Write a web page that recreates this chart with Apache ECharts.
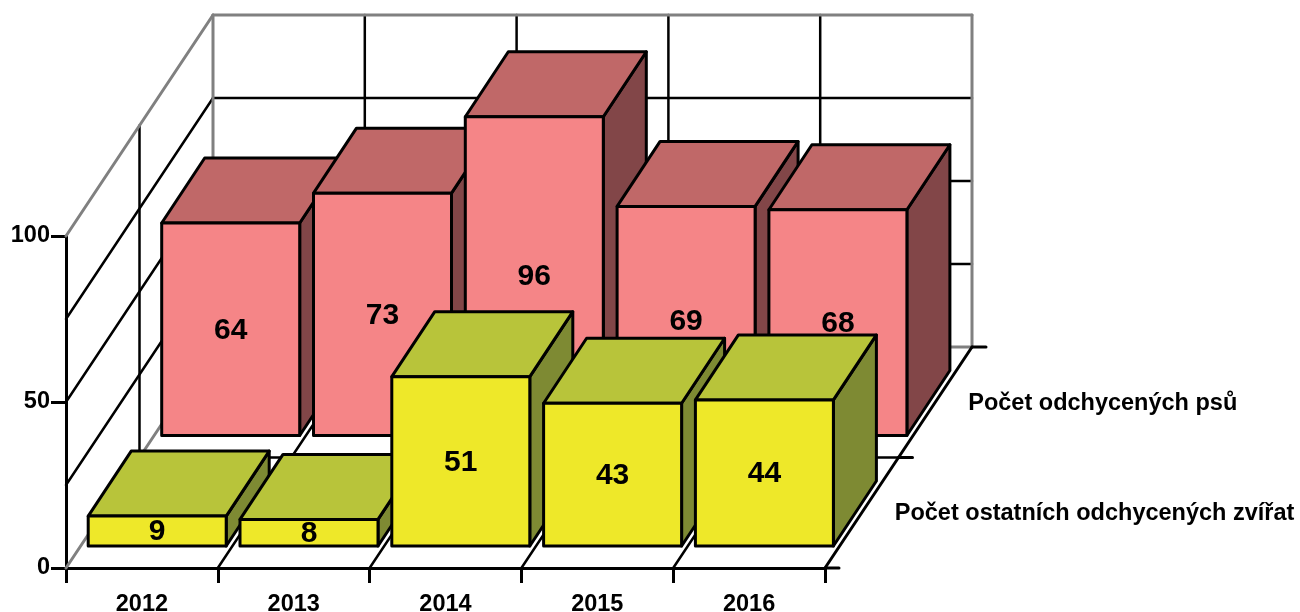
<!DOCTYPE html>
<html>
<head>
<meta charset="utf-8">
<style>html,body{margin:0;padding:0;background:#fff}#c{width:1300px;height:612px}</style>
<script src="https://cdn.jsdelivr.net/npm/echarts@6/dist/echarts.min.js"></script>
</head>
<body>
<div id="c"></div>
<script>
const categories = ['2012', '2013', '2014', '2015', '2016'];
const dogs = [64, 73, 96, 69, 68];
const others = [9, 8, 51, 43, 44];
const dogsName = 'Počet odchycených psů';
const othersName = 'Počet ostatních odchycených zvířat';
const gridValues = [0, 25, 50, 75, 100];

// oblique projection of the depth axis
const DEPTH = [73.5, -110.5];  // one depth band on screen
const BAR_INSET = [15.3, -22]; // bar start within a depth band
const BAR_DEPTH = [43, -65];   // bar depth on screen
const BAR_W = 138;
const INK = '#000';
const GREY = '#808080';
const FONT = '"Liberation Sans", Arial, sans-serif';

function line(p, q, color, w) {
  return { type: 'line', shape: { x1: p[0], y1: p[1], x2: q[0], y2: q[1] },
    style: { stroke: color, lineWidth: w, lineCap: 'round' } };
}
function add(p, d, k) { return [p[0] + d[0] * k, p[1] + d[1] * k]; }

function renderWalls(params, api) {
  const band = api.size([1, 0])[0];
  const at = (i, v) => { const c = api.coord([0, v]); return [c[0] - band / 2 + i * band, c[1]]; };
  const n = categories.length;
  const kids = [];
  // back wall and left wall grid lines
  gridValues.forEach(v => {
    if (v === 0 || v === 100) return;
    kids.push(line(at(0, v), add(at(0, v), DEPTH, 2), INK, 2.5));
    kids.push(line(add(at(0, v), DEPTH, 2), add(at(n, v), DEPTH, 2), INK, 2.5));
  });
  for (let i = 1; i < n; i++) {
    kids.push(line(add(at(i, 0), DEPTH, 2), add(at(i, 100), DEPTH, 2), INK, 2.5));
    kids.push(line(at(i, 0), add(at(i, 0), DEPTH, 2), INK, 2.5));
  }
  // mid-depth lines
  kids.push(line(add(at(0, 0), DEPTH, 1), add(at(0, 100), DEPTH, 1), INK, 2.5));
  kids.push(line(add(at(0, 0), DEPTH, 1), add(at(n, 0), DEPTH, 1), INK, 2.5));
  // grey frame
  const g = 3;
  kids.push(line(add(at(0, 0), DEPTH, 2), add(at(n, 0), DEPTH, 2), GREY, g));
  kids.push(line(at(0, 0), add(at(0, 0), DEPTH, 2), GREY, g));
  kids.push(line(at(0, 100), add(at(0, 100), DEPTH, 2), GREY, g));
  kids.push(line(add(at(0, 100), DEPTH, 2), add(at(n, 100), DEPTH, 2), GREY, g));
  kids.push(line(add(at(0, 0), DEPTH, 2), add(at(0, 100), DEPTH, 2), GREY, g));
  kids.push(line(add(at(n, 0), DEPTH, 2), add(at(n, 100), DEPTH, 2), GREY, g));
  // right floor edge with its ticks
  kids.push(line(at(n, 0), add(at(n, 0), DEPTH, 2), INK, 3));
  [0, 1, 2].forEach(k => {
    const p = add(at(n, 0), DEPTH, k);
    kids.push(line(p, [p[0] + 14, p[1]], INK, 3));
  });
  // depth axis names
  [[0.5, othersName], [1.5, dogsName]].forEach(([k, name]) => {
    const p = add(at(n, 0), DEPTH, k);
    kids.push({ type: 'text', style: { x: p[0] + 33, y: p[1] + 1, text: name, fill: INK,
      font: 'bold 23.5px ' + FONT, align: 'left', verticalAlign: 'middle' } });
  });
  return { type: 'group', children: kids };
}

function barRenderer(depthIndex, front, top, side) {
  return function (params, api) {
    const i = api.value(0), v = api.value(1);
    const c = api.coord([i, v]), b = api.coord([i, 0]);
    const ox = DEPTH[0] * depthIndex + BAR_INSET[0];
    const oy = DEPTH[1] * depthIndex + BAR_INSET[1];
    const x0 = c[0] + ox - BAR_W / 2, x1 = x0 + BAR_W;
    const yT = c[1] + oy, yB = b[1] + oy;
    const dx = BAR_DEPTH[0], dy = BAR_DEPTH[1];
    const stroke = { stroke: INK, lineWidth: 3, lineJoin: 'round' };
    const poly = (pts, fill) => ({ type: 'polygon', shape: { points: pts }, style: Object.assign({ fill }, stroke) });
    return { type: 'group', children: [
      poly([[x1, yB], [x1 + dx, yB + dy], [x1 + dx, yT + dy], [x1, yT]], side),
      poly([[x0, yT], [x1, yT], [x1 + dx, yT + dy], [x0 + dx, yT + dy]], top),
      poly([[x0, yT], [x1, yT], [x1, yB], [x0, yB]], front),
      { type: 'text', style: { x: (x0 + x1) / 2, y: (yT + yB) / 2 + 1, text: String(v), fill: INK,
        font: 'bold 30px ' + FONT, align: 'center', verticalAlign: 'middle' } }
    ] };
  };
}

const toData = arr => arr.map((v, i) => [i, v]);

const chart = echarts.init(document.getElementById('c'), null, { renderer: 'canvas' });
chart.setOption({
  animation: false,
  backgroundColor: '#fff',
  grid: { left: 66, top: 236, width: 759, height: 332, containLabel: false, outerBoundsMode: 'none' },
  xAxis: {
    type: 'category', data: categories, boundaryGap: true,
    axisLine: { show: true, lineStyle: { color: INK, width: 3 } },
    axisTick: { show: true, alignWithLabel: false, length: 15, lineStyle: { color: INK, width: 3 } },
    axisLabel: { color: INK, fontFamily: FONT, fontWeight: 'bold', fontSize: 23.5, margin: 25 },
    splitLine: { show: false }
  },
  yAxis: {
    type: 'value', min: 0, max: 100, interval: 50,
    axisLine: { show: true, lineStyle: { color: INK, width: 3 } },
    axisTick: { show: true, length: 15, lineStyle: { color: INK, width: 3 } },
    axisLabel: { color: INK, fontFamily: FONT, fontWeight: 'bold', fontSize: 23.5, margin: 16 },
    splitLine: { show: false }
  },
  series: [
    { type: 'custom', name: 'walls', silent: true, clip: false, z: 1, data: [[0, 0]], encode: { x: 0, y: 1 }, renderItem: renderWalls },
    { type: 'custom', name: dogsName, clip: false, z: 2, data: toData(dogs), encode: { x: 0, y: 1 },
      renderItem: barRenderer(1, '#F58587', '#C06868', '#824648') },
    { type: 'custom', name: othersName, clip: false, z: 3, data: toData(others), encode: { x: 0, y: 1 },
      renderItem: barRenderer(0, '#EEE829', '#B8C43A', '#7E8A33') }
  ]
});
</script>
</body>
</html>
